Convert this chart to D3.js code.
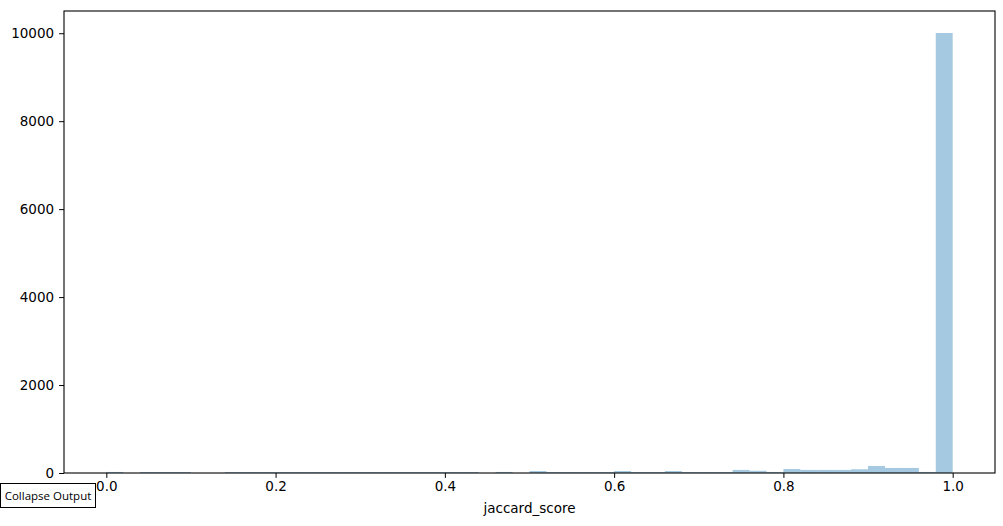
<!DOCTYPE html>
<html>
<head>
<meta charset="utf-8">
<script src="https://cdn.jsdelivr.net/npm/d3@7"></script>
<style>
  body { margin: 0; background: #fff; }
  #chart { position: relative; width: 1003px; height: 526px; }
  .collapse {
    position: absolute; left: 0px; top: 483px; width: 94px; height: 23px;
    border: 1px solid #000; background: #fff;
    font-family: "Open Sans", "Noto Sans", sans-serif; font-size: 11.5px;
    line-height: 23px; text-align: center; color: #000;
  }
</style>
</head>
<body>
<div id="chart"></div>
<script>
// histogram of jaccard_score, 50 bins of width 0.02 over [0, 1]
const binStarts = d3.range(0, 50).map(i => +(i * 0.02).toFixed(2));
const counts = [
  24, 0, 22, 22, 22, 0, 0, 22, 22, 22,
  22, 22, 22, 22, 22, 22, 22, 22, 22, 22,
  22, 22, 0, 24, 0, 45, 22, 22, 22, 22,
  45, 22, 22, 45, 22, 22, 22, 70, 50, 24,
  90, 70, 70, 70, 85, 160, 115, 115, 24, 10005
];
const binWidth = 0.02;
const xTicks = [0, 0.2, 0.4, 0.6, 0.8, 1.0];
const yTicks = [0, 2000, 4000, 6000, 8000, 10000];
const xLabel = "jaccard_score";

const w = 1003, h = 526;
const m = {left: 64, right: 995, top: 11, bottom: 473};

const svg = d3.select("#chart").append("svg")
    .attr("width", w)
    .attr("height", h)
    .style("font-family", "DejaVu Sans, sans-serif");

const x = d3.scaleLinear().domain([-0.05, 1.05]).range([m.left, m.right]);
const yMax = d3.max(counts) * 1.05;
const y = d3.scaleLinear().domain([0, yMax]).range([m.bottom, m.top]);

svg.append("g")
    .selectAll("rect")
    .data(counts)
    .enter()
    .append("rect")
    .attr("x", (d, i) => x(binStarts[i]))
    .attr("width", (d, i) => x(binStarts[i] + binWidth) - x(binStarts[i]))
    .attr("y", d => y(d))
    .attr("height", d => y(0) - y(d))
    .attr("fill", "#1f77b4")
    .attr("fill-opacity", 0.4);

const xAxis = svg.append("g")
    .attr("transform", "translate(0," + m.bottom + ")")
    .call(d3.axisBottom(x).tickValues(xTicks).tickFormat(d3.format(".1f")).tickSize(4.9).tickPadding(4));
const yAxis = svg.append("g")
    .attr("transform", "translate(" + m.left + ",0)")
    .call(d3.axisLeft(y).tickValues(yTicks).tickFormat(d3.format("d")).tickSize(4.9).tickPadding(5));

[xAxis, yAxis].forEach(g => {
    g.select(".domain").remove();
    g.selectAll("text").attr("font-size", 13.5).attr("font-family", "DejaVu Sans, sans-serif").attr("fill", "#000");
    g.selectAll("line").attr("stroke", "#000").attr("stroke-width", 1);
});

// frame
svg.append("rect")
    .attr("x", m.left)
    .attr("y", m.top)
    .attr("width", m.right - m.left)
    .attr("height", m.bottom - m.top)
    .attr("fill", "none")
    .attr("stroke", "#000")
    .attr("stroke-width", 1.1);

svg.append("text")
    .attr("x", (m.left + m.right) / 2)
    .attr("y", 513)
    .attr("text-anchor", "middle")
    .attr("font-size", 13.5)
    .text(xLabel);

d3.select("#chart").append("div").attr("class", "collapse").text("Collapse Output");
</script>
</body>
</html>
